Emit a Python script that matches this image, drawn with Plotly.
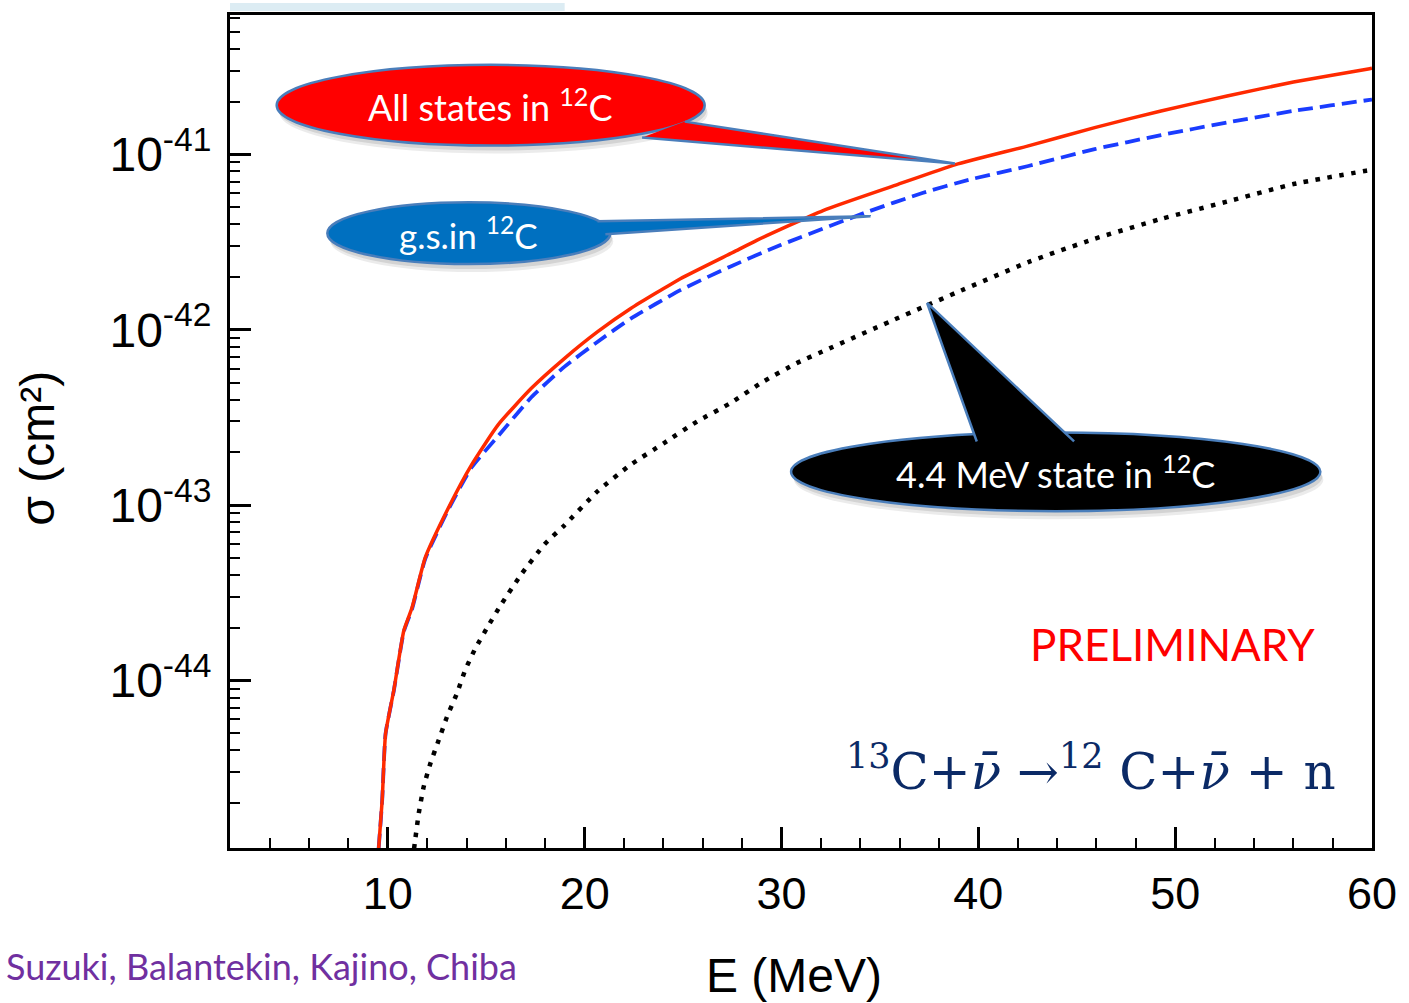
import plotly.graph_objects as go

# ---------------- data ----------------
# Energy E (MeV) and log10(sigma / cm^2)
E_all = [9.53, 9.712, 9.884, 10.30, 10.81, 11.23, 11.90, 13.08, 14.26, 15.61, 17.29, 18.98,
         20.66, 22.34, 24.86, 27.56, 28.74, 32.11, 35.81, 38.84, 42.54, 45.91, 49.28,
         52.64, 56.01, 59.88, 60.0]
logsig_all = [-44.960, -44.682, -44.303, -44.057, -43.716, -43.584, -43.299, -43.015,
              -42.769, -42.541, -42.334, -42.163, -42.011, -41.879, -41.709, -41.557,
              -41.490, -41.320, -41.175, -41.058, -40.951, -40.847, -40.752, -40.667,
              -40.587, -40.511, -40.508]

E_gs = [9.53, 9.712, 9.884, 10.30, 10.81, 11.23, 11.90, 13.08, 14.26, 15.61, 17.29, 18.98,
        20.66, 22.34, 24.86, 27.39, 29.95, 34.30, 37.16, 39.50, 42.54, 45.91, 49.28,
        52.64, 56.01, 59.88, 60.0]
logsig_gs = [-44.960, -44.682, -44.303, -44.060, -43.722, -43.592, -43.306, -43.023,
             -42.784, -42.605, -42.385, -42.210, -42.068, -41.936, -41.774, -41.640,
             -41.517, -41.330, -41.220, -41.145, -41.066, -40.970, -40.890, -40.818,
             -40.752, -40.689, -40.687]

E_44 = [11.33, 11.40, 11.57, 11.82, 12.16, 12.58, 13.00, 13.50, 13.92, 14.43, 15.10, 15.77,
        16.78, 17.96, 18.97, 20.66, 22.34, 24.03, 25.71, 27.39, 29.08, 30.76, 32.44,
        35.47, 37.32, 38.84, 42.54, 45.91, 49.28, 52.64, 56.01, 59.71, 60.0]
logsig_44 = [-44.960, -44.899, -44.757, -44.606, -44.473, -44.341, -44.208, -44.076,
             -43.943, -43.820, -43.688, -43.564, -43.394, -43.223, -43.115, -42.920,
             -42.769, -42.646, -42.523, -42.419, -42.295, -42.191, -42.106, -41.955,
             -41.864, -41.790, -41.614, -41.481, -41.368, -41.269, -41.169, -41.093,
             -41.088]

x_ticks = [10, 20, 30, 40, 50, 60]
y_tickvals = [1e-44, 1e-43, 1e-42, 1e-41]
y_ticktext = ["10<sup>-44</sup>", "10<sup>-43</sup>", "10<sup>-42</sup>", "10<sup>-41</sup>"]

sig_all = [10 ** v for v in logsig_all]
sig_gs = [10 ** v for v in logsig_gs]
sig_44 = [10 ** v for v in logsig_44]

# ---------------- figure ----------------
W, H = 1409, 1003
L, R, T, B = 230, 1380, 12, 848


def px(x):
    return (x - L) / (R - L)


def py(y):
    return (B - y) / (B - T)


fig = go.Figure()
fig.add_trace(go.Scatter(x=E_44, y=sig_44, mode="lines",
                         line=dict(color="black", width=4.5, dash="4.5px,7.5px",
                                   shape="spline", smoothing=0.5),
                         name="4.4 MeV state"))
fig.add_trace(go.Scatter(x=E_gs, y=sig_gs, mode="lines",
                         line=dict(color="#1a3cff", width=3.8, dash="15px,7px",
                                   shape="spline", smoothing=0.5),
                         name="g.s."))
fig.add_trace(go.Scatter(x=E_all, y=sig_all, mode="lines",
                         line=dict(color="#ff2a00", width=3.5,
                                   shape="spline", smoothing=0.5),
                         name="All states"))

shapes = []
annotations = []

# light blue strip at top
shapes.append(dict(type="rect", xref="paper", yref="paper",
                   x0=px(230), x1=px(567), y0=py(8), y1=py(0),
                   fillcolor="#dcecf3", line=dict(width=0), layer="above"))


def callout(x0, x1, y0, y1, tail, fill, text, tsize, outline="#4a7ebb"):
    # soft shadow
    for dx, dy, a in [(2, 5, 0.10), (3, 8, 0.08)]:
        shapes.append(dict(type="circle", xref="paper", yref="paper",
                           x0=px(x0 + dx), x1=px(x1 + dx), y0=py(y1 + dy), y1=py(y0 + dy),
                           fillcolor=f"rgba(0,0,0,{a})", line=dict(width=0), layer="above"))
    shapes.append(dict(type="circle", xref="paper", yref="paper",
                       x0=px(x0), x1=px(x1), y0=py(y1), y1=py(y0),
                       fillcolor=fill, line=dict(color=outline, width=2.5), layer="above"))
    (ax, ay), (tx, ty), (bx, by) = tail
    path = f"M {px(ax)},{py(ay)} L {px(tx)},{py(ty)} L {px(bx)},{py(by)}"
    shapes.append(dict(type="path", xref="paper", yref="paper", path=path,
                       fillcolor=fill, line=dict(color=outline, width=2.5), layer="above"))
    annotations.append(dict(xref="paper", yref="paper", x=px((x0 + x1) / 2), y=py((y0 + y1) / 2),
                            text=text, showarrow=False, xanchor="center", yanchor="middle",
                            font=dict(family="Lato", size=tsize, color="white")))


callout(277, 708, 62, 143, [(688, 119), (960, 161), (645, 135)], "#ff0000",
        "All states in <sup>12</sup>C", 36)
callout(328, 613, 200, 262, [(600, 219), (875, 214), (608, 232)], "#0070c0",
        "g.s.in <sup>12</sup>C", 35)
callout(795, 1328, 431, 510, [(982, 440), (932, 301), (1080, 440)], "#000000",
        "4.4 MeV state in <sup>12</sup>C", 36)

# PRELIMINARY
annotations.append(dict(xref="paper", yref="paper", x=px(1179), y=py(643),
                        text="PRELIMINARY", showarrow=False, xanchor="center", yanchor="middle",
                        font=dict(family="Lato", size=44, color="#ff0000")))
# reaction
annotations.append(dict(xref="paper", yref="paper", x=px(1346), y=py(768),
                        text="<sup>13</sup>C+<i>ν̄</i> →<sup>12</sup> C+<i>ν̄</i> + n",
                        showarrow=False, xanchor="right", yanchor="middle",
                        font=dict(family="DejaVu Serif", size=50, color="#0b2a66")))
# authors
annotations.append(dict(xref="paper", yref="paper", x=px(2), y=py(966),
                        text="Suzuki, Balantekin, Kajino, Chiba", showarrow=False,
                        xanchor="left", yanchor="middle",
                        font=dict(family="Lato", size=36, color="#7030a0")))
# axis titles
annotations.append(dict(xref="paper", yref="paper", x=px(798), y=py(976),
                        text="E (MeV)", showarrow=False, xanchor="center", yanchor="middle",
                        font=dict(family="Liberation Sans", size=48, color="black")))
annotations.append(dict(xref="paper", yref="paper", x=px(36), y=py(447),
                        text="σ (cm²)", showarrow=False, xanchor="center", yanchor="middle",
                        textangle=-90,
                        font=dict(family="Liberation Sans", size=48, color="black")))

fig.update_layout(
    width=W, height=H,
    margin=dict(l=L, r=W - R, t=T, b=H - B),
    plot_bgcolor="white", paper_bgcolor="white",
    showlegend=False,
    shapes=shapes, annotations=annotations,
)

fig.update_xaxes(
    range=[1.98, 60], tickmode="array", tickvals=x_ticks,
    ticks="inside", ticklen=21, tickwidth=3, tickcolor="black",
    showline=True, linewidth=3, linecolor="black", mirror=True,
    showgrid=False, zeroline=False,
    tickfont=dict(family="Liberation Sans", size=45, color="black"),
    ticklabelstandoff=4,
    minor=dict(ticks="inside", ticklen=10, tickwidth=2, tickcolor="black",
               tickmode="linear", tick0=0, dtick=2, showgrid=False),
)
fig.update_yaxes(
    type="log", range=[-44.955, -40.205],
    tickmode="array", tickvals=y_tickvals, ticktext=y_ticktext,
    ticks="inside", ticklen=21, tickwidth=3, tickcolor="black",
    showline=True, linewidth=3, linecolor="black", mirror=True,
    showgrid=False, zeroline=False,
    tickfont=dict(family="Liberation Sans", size=48, color="black"),
    ticklabelstandoff=6,
    minor=dict(ticks="inside", ticklen=10, tickwidth=2, tickcolor="black",
               dtick="D1", showgrid=False),
)

fig.write_html("out.html")
